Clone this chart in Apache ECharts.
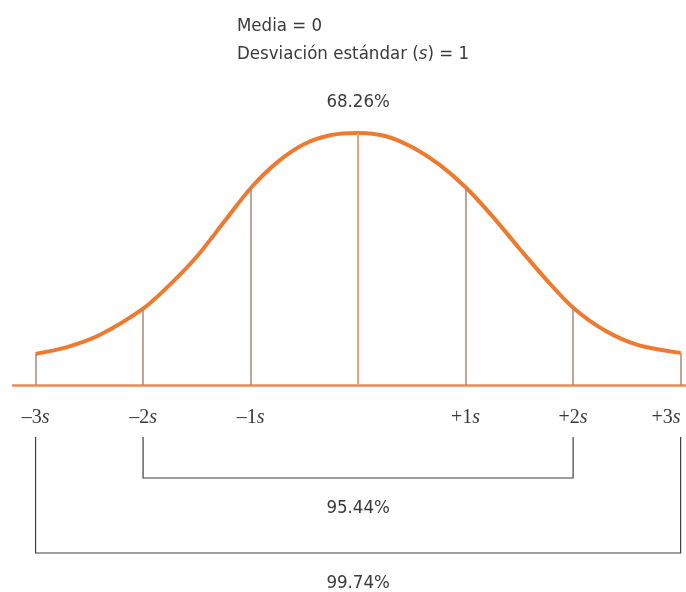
<!DOCTYPE html>
<html>
<head>
<meta charset="utf-8">
<script src="https://cdn.jsdelivr.net/npm/echarts@6/dist/echarts.min.js"></script>
<style>
  html, body { margin: 0; padding: 0; background: #fff; }
  #chart { width: 686px; height: 592px; }
</style>
</head>
<body>
<div id="chart"></div>
<script>
// Standard-deviation positions marked under the curve (in units of s)
const sigmaMarks = [-3, -2, -1, 0, 1, 2, 3];
const sigmaLabels = ['–3', '–2', '–1', '', '+1', '+2', '+3'];

// Bell curve outline: position (s) and relative height
const curveX = [-3.0, -2.7, -2.4, -2.0, -1.75, -1.5, -1.25, -1.0, -0.75, -0.5, -0.25, 0,
                0.25, 0.5, 0.75, 1.0, 1.25, 1.5, 1.75, 2.0, 2.3, 2.6, 3.0];
const curveY = [31, 38, 50, 76, 100, 128, 162, 196, 222, 240, 249, 251,
                248, 237, 220, 197, 168, 136, 105, 77, 54, 40, 32];

// Share of the distribution inside each band
const bands = [
  { from: -2, to: 2, label: '95.44%' },
  { from: -3, to: 3, label: '99.74%' }
];
const centralBand = '68.26%';
const meanText = 'Media = 0';
const sdText = 'Desviación estándar ({i|s}) = 1';

const FONT = "'Liberation Sans Narrow', 'DejaVu Sans Condensed', 'Noto Sans', sans-serif";
const SERIF = "'Liberation Serif', 'DejaVu Serif', serif";
const TEXT_COLOR = '#3a3a3a';

const curveData = curveX.map((x, i) => [x, curveY[i]]);
const heightAt = s => curveY[curveX.indexOf(s)];

const chart = echarts.init(document.getElementById('chart'), null, { renderer: 'canvas' });

const verticals = sigmaMarks.map(s => ([
  { coord: [s, 0], lineStyle: { type: 'solid', color: s === 0 ? '#E2A680' : '#A98878', width: s === 0 ? 2 : 1.5 } },
  { coord: [s, heightAt(s)] }
]));

chart.setOption({
  animation: false,
  backgroundColor: '#fff',
  title: [
    { text: meanText, left: 232, top: 12,
      textStyle: { fontFamily: FONT, fontSize: 18.5, fontWeight: 'normal', color: TEXT_COLOR } },
    { text: sdText, left: 232, top: 40,
      textStyle: { fontFamily: FONT, fontSize: 18.5, fontWeight: 'normal', color: TEXT_COLOR,
        rich: { i: { fontFamily: FONT, fontSize: 18.5, fontStyle: 'italic', color: TEXT_COLOR } } } }
  ],
  grid: { left: 13, right: 0, top: 133, bottom: 207 },
  xAxis: {
    type: 'value', min: -3.21, max: 3.05,
    axisLine: { show: true, lineStyle: { color: '#EC8A50', width: 2.5 } },
    axisTick: { show: false },
    splitLine: { show: false },
    axisLabel: {
      customValues: sigmaMarks.filter(s => s !== 0),
      margin: 23,
      alignMaxLabel: 'right',
      formatter: v => '{n|' + sigmaLabels[sigmaMarks.indexOf(v)] + '}{i|s}',
      rich: {
        n: { fontFamily: SERIF, fontSize: 20, color: TEXT_COLOR },
        i: { fontFamily: SERIF, fontSize: 20, fontStyle: 'italic', color: TEXT_COLOR }
      }
    }
  },
  yAxis: { type: 'value', min: 0, max: 251, show: false },
  series: [{
    type: 'line',
    data: curveData,
    smooth: 0.3,
    symbol: 'none',
    z: 3,
    lineStyle: { color: '#EE7A30', width: 4 },
    markLine: {
      silent: true, symbol: 'none', label: { show: false },
      lineStyle: { type: 'solid' },
      data: verticals
    }
  }]
});

// Brackets below the axis, spanning each band between its s positions
const px = v => chart.convertToPixel({ xAxisIndex: 0 }, v);
const bracketTop = 437;
const bracketBottoms = [478, 553];
const graphics = [];
bands.forEach((b, i) => {
  const x1 = px(b.from), x2 = px(b.to), yb = bracketBottoms[i];
  graphics.push({
    type: 'polyline',
    shape: { points: [[x1, bracketTop], [x1, yb], [x2, yb], [x2, bracketTop]] },
    style: { stroke: '#3f3f3f', lineWidth: 1.2, fill: null }
  });
  graphics.push({
    type: 'text', x: (x1 + x2) / 2, y: yb + 30,
    style: { text: b.label, fontFamily: FONT, fontSize: 18.5, fill: TEXT_COLOR,
      align: 'center', verticalAlign: 'middle' }
  });
});
graphics.push({
  type: 'text', x: px(0), y: 102,
  style: { text: centralBand, fontFamily: FONT, fontSize: 18.5, fill: TEXT_COLOR,
    align: 'center', verticalAlign: 'middle' }
});
chart.setOption({ graphic: graphics });
</script>
</body>
</html>
